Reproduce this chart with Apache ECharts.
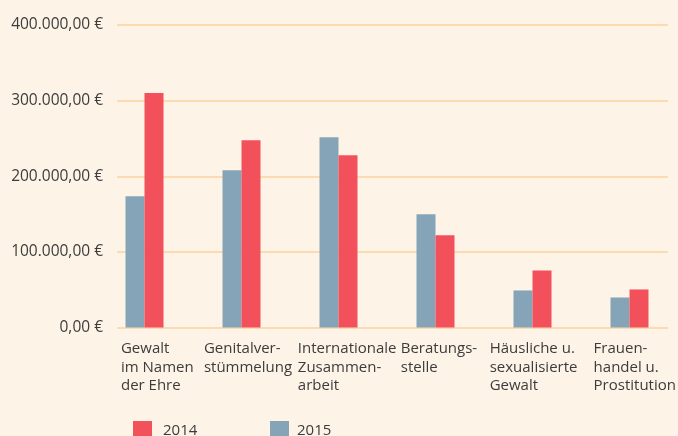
<!DOCTYPE html>
<html>
<head>
<meta charset="utf-8">
<script src="https://cdn.jsdelivr.net/npm/echarts@6/dist/echarts.min.js"></script>
<style>
html,body{margin:0;padding:0;background:#fdf4e7;}
#c{width:678px;height:436px;}
</style>
</head>
<body>
<div id="c"></div>
<script>
var categories = ['Gewalt\nim Namen\nder Ehre', 'Genitalver-\nstümmelung', 'Internationale\nZusammen-\narbeit', 'Beratungs-\nstelle', 'Häusliche u.\nsexualisierte\nGewalt', 'Frauen-\nhandel u.\nProstitution'];
var values2015 = [173500, 208000, 251700, 149700, 49000, 39700];
var values2014 = [310000, 247700, 227800, 121900, 75500, 50300];
var yTicks = [0, 100000, 200000, 300000, 400000];

function fmtEuro(v) {
  var s = String(Math.round(v));
  var out = '';
  while (s.length > 3) { out = '.' + s.slice(-3) + out; s = s.slice(0, -3); }
  return s + out + ',00 €';
}

var FONT = 'Open Sans';
var TXT = '#3c3c3c';
var labelPad = [20, 7, 5, 12, 5, 13];

var chart = echarts.init(document.getElementById('c'), null, {renderer: 'canvas'});
chart.setOption({
  backgroundColor: '#fdf4e7',
  animation: false,
  textStyle: {fontFamily: FONT},
  grid: [
    {left: 96, width: 587, top: 25, height: 302.5},
    {left: 117, width: 551, top: 25, height: 302.5},
    {left: 53, width: 587, top: 25, height: 302.5}
  ],
  xAxis: [
    {gridIndex: 0, type: 'category', data: categories, show: false},
    {gridIndex: 1, type: 'category', data: categories, show: false},
    {gridIndex: 2, type: 'category',
     data: categories.map(function (c, i) {
       return {value: c, textStyle: {align: 'left', padding: [0, 0, 0, labelPad[i]],
         color: TXT, fontFamily: FONT, fontSize: 15, lineHeight: 18.5}};
     }),
     axisLine: {show: false}, axisTick: {show: false}, splitLine: {show: false},
     axisLabel: {show: true, interval: 0, align: 'left', margin: 12, color: TXT,
       fontFamily: FONT, fontSize: 15, lineHeight: 18.5}}
  ],
  yAxis: [
    {gridIndex: 0, type: 'value', min: 0, max: 400000, interval: 100000, show: false},
    {gridIndex: 1, type: 'value', min: yTicks[0], max: yTicks[yTicks.length - 1], interval: 100000,
     axisLine: {show: false}, axisTick: {show: false},
     splitLine: {show: true, lineStyle: {color: '#fcd3a1', width: 1.5}},
     axisLabel: {margin: 14, color: TXT, fontFamily: FONT, fontSize: 15.5,
       formatter: function (v) { return fmtEuro(v); }}},
    {gridIndex: 2, type: 'value', min: 0, max: 400000, show: false}
  ],
  legend: [
    {data: ['2014'], left: 133, top: 421, padding: 0, itemWidth: 19, itemHeight: 19, icon: 'rect',
     selectedMode: false, textStyle: {color: TXT, fontFamily: FONT, fontSize: 15, padding: [0, 0, 0, 6]}},
    {data: ['2015'], left: 270, top: 421, padding: 0, itemWidth: 19, itemHeight: 19, icon: 'rect',
     selectedMode: false, textStyle: {color: TXT, fontFamily: FONT, fontSize: 15, padding: [0, 0, 0, 3]}}
  ],
  series: [
    {name: '2015', type: 'bar', xAxisIndex: 0, yAxisIndex: 0, data: values2015,
     barWidth: 19, barGap: '0%', itemStyle: {color: '#86a4b7'}, z: 3},
    {name: '2014', type: 'bar', xAxisIndex: 0, yAxisIndex: 0, data: values2014,
     barWidth: 19, barGap: '0%', itemStyle: {color: '#f2505a'}, z: 3}
  ]
});
</script>
</body>
</html>
